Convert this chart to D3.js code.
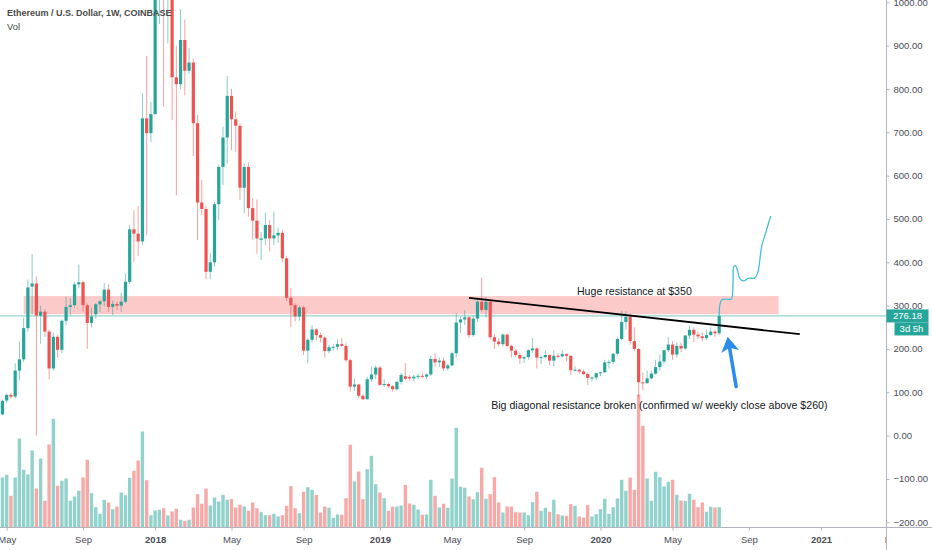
<!DOCTYPE html>
<html>
<head>
<meta charset="utf-8">
<script src="https://cdn.jsdelivr.net/npm/d3@7"></script>
<style>
  html, body { margin: 0; padding: 0; background: #fff; }
  svg { display: block; font-family: "Liberation Sans", Arial, sans-serif; }
</style>
</head>
<body>
<svg id="chart" width="932" height="550"></svg>
<script>
const width = 932;
const height = 550;
const plotRight = 886.5;
const axisY = 527.5;

// weekly candles from the week of 2017-04-24 to the week of 2020-07-20
const firstWeek = "2017-04-24";
const lastWeek = "2020-07-20";

const opens = [49,81,94,90,150,176,248,344,351,277,286,240,155,228,198,265,297,301,349,354,301,260,280,303,310,337,297,304,300,309,355,476,466,448,732,698,742,1150,1370,1050,1115,827,811,913,842,861,721,538,523,378,400,534,620,688,784,730,715,572,620,525,496,452,455,486,455,462,468,409,318,301,275,296,196,221,245,232,226,195,204,205,211,207,174,113,118,92,84,130,141,157,117,119,114,107,124,137,135,132,136,138,136,141,177,169,173,155,162,190,261,268,273,232,270,309,290,309,227,217,211,233,207,196,186,178,181,197,201,180,181,186,173,184,183,188,184,151,152,148,142,133,134,144,146,169,170,189,223,262,274,218,200,123,121,132,143,158,171,197,210,187,207,201,231,244,233,229,225,232,240,236];
const highs = [83,97,98,167,217,272,360,419,367,300,292,245,238,232,268,320,317,355,395,356,305,295,306,312,352,349,312,310,330,375,486,520,530,790,876,770,1190,1420,1420,1200,1180,900,984,960,894,870,740,590,530,421,540,625,713,830,800,748,720,628,630,548,545,470,514,497,517,480,475,415,340,305,300,300,225,255,248,238,230,210,210,222,225,213,178,132,120,95,136,159,162,160,130,122,117,127,145,167,140,140,143,145,143,185,190,180,180,166,194,283,275,290,275,278,318,365,320,313,235,225,236,236,210,200,192,185,200,225,204,185,197,187,198,190,197,190,186,160,154,152,146,136,145,147,175,175,190,228,288,287,280,250,202,145,150,150,175,187,198,227,218,215,215,232,253,250,240,238,245,250,245,279];
const lows = [47,76,85,86,128,170,240,280,0.1,212,228,130,150,180,190,255,278,295,340,285,200,250,270,285,298,285,278,290,285,305,350,400,415,440,463,678,740,950,759,905,728,555,800,785,835,645,451,509,361,361,390,498,578,628,659,655,544,513,505,451,420,405,440,425,440,445,400,310,251,263,265,186,167,215,220,215,180,190,196,198,205,170,102,103,86,82,83,125,130,115,112,110,101,104,118,128,126,125,130,133,131,138,160,158,150,150,160,180,237,255,225,228,262,285,272,222,200,205,206,205,180,182,165,168,175,190,155,165,178,162,160,178,180,172,140,148,143,140,117,124,128,137,145,155,165,185,220,245,210,195,90,105,120,130,140,150,166,193,175,180,193,198,223,216,223,217,220,230,228,232];
const closes = [80,94,90,150,176,248,342,351,277,286,240,155,228,198,265,297,301,349,354,301,260,275,303,310,337,297,304,300,309,355,476,466,448,732,698,742,1150,1370,1050,1115,827,811,913,842,861,721,538,523,378,400,534,620,688,784,730,715,572,620,525,496,455,455,486,455,462,468,409,318,301,275,296,196,221,245,232,226,195,204,205,211,207,174,113,118,92,84,130,141,157,117,119,114,107,124,140,131,132,136,138,136,141,177,169,173,155,162,190,261,268,273,232,270,309,290,309,227,217,211,233,207,196,186,178,181,197,201,180,181,186,173,184,183,188,184,151,152,148,142,133,134,144,146,169,170,189,223,262,274,218,200,123,121,132,143,158,171,197,210,187,207,201,231,244,233,229,225,232,240,236,276.18];
const volumes = [500,527,317,500,890,577,530,770,390,690,267,830,1087,417,467,490,267,310,367,500,677,343,203,137,277,250,183,210,350,323,497,567,670,960,473,123,170,177,193,120,160,187,77,67,77,200,333,237,390,220,300,260,327,277,283,200,227,210,167,250,193,153,123,123,137,110,123,217,413,193,143,357,403,377,327,150,210,197,97,130,127,293,827,460,560,283,583,717,433,350,293,167,210,210,220,427,240,227,180,127,130,477,317,200,237,197,490,997,407,397,310,283,353,597,287,333,503,250,150,210,210,153,150,150,123,253,357,167,197,157,277,133,120,117,233,217,110,100,223,110,133,183,287,137,203,290,477,367,500,377,1330,1017,490,267,557,503,410,457,477,327,270,267,337,277,203,250,157,207,200,203];

const timeTicks = ["2017-05-01","2017-09-04","2018-01-01","2018-05-07","2018-09-03","2019-01-07","2019-05-06","2019-09-02","2020-01-06","2020-05-04","2020-09-07","2021-01-04","2021-05-03"];
const timeLabels = ["May","Sep","2018","May","Sep","2019","May","Sep","2020","May","Sep","2021","May"];
const priceTicks = [1000,900,800,700,600,500,400,300,200,100,0,-100,-200];

// drawings on the chart
const zoneDates = ["2017-05-29","2020-10-26"];
const zonePrices = [280,322];
const trendDates = ["2019-06-03","2020-11-30"];
const trendPrices = [318,234];
const projDates = ["2020-07-20","2020-07-21","2020-07-24","2020-08-01","2020-08-09","2020-08-11","2020-08-12","2020-08-13","2020-08-16","2020-08-19","2020-08-23","2020-08-29","2020-09-06","2020-09-17","2020-09-22","2020-09-28","2020-10-06","2020-10-13"];
const projPrices = [278,301,313,315,315,328,367,390,392,382,363,357,363,364,378,436,474,507];
const arrowDates = ["2020-08-17","2020-08-03"];
const arrowPrices = [113,228];
const lastPrice = 276.18;
const timeLeft = "3d 5h";

const parse = d3.utcParse("%Y-%m-%d");
const weeks = d3.utcMonday.range(parse(firstWeek), d3.utcDay.offset(parse(lastWeek), 1));

const candles = weeks.map((d, i) => ({
  date: d, o: opens[i], h: highs[i], l: lows[i], c: closes[i], v: volumes[i]
}));

const up = "#26a69a";
const down = "#ef5350";
const textColor = "#4a4d57";

const x = d3.scaleUtc()
  .domain([parse("2017-05-01"), parse("2021-01-04")])
  .range([6.7, 821]);

const y = d3.scaleLinear()
  .domain([0, 1000])
  .range([435.6, 2.3]);

const yVol = d3.scaleLinear()
  .domain([0, d3.max(volumes)])
  .range([axisY, axisY - 133]);

const svg = d3.select("#chart");

const defs = svg.append("defs");
defs.append("clipPath")
  .attr("id", "plot-clip")
  .append("rect")
  .attr("x", 0).attr("y", 0)
  .attr("width", plotRight).attr("height", axisY);
defs.append("clipPath")
  .attr("id", "time-clip")
  .append("rect")
  .attr("x", 0).attr("y", -2)
  .attr("width", plotRight).attr("height", 30);

const plot = svg.append("g").attr("clip-path", "url(#plot-clip)");

// resistance zone
plot.append("rect")
  .attr("x", x(parse(zoneDates[0])))
  .attr("y", y(zonePrices[1]))
  .attr("width", x(parse(zoneDates[1])) - x(parse(zoneDates[0])))
  .attr("height", y(zonePrices[0]) - y(zonePrices[1]))
  .attr("fill", "#fdcaca");

// volume
plot.append("g")
  .selectAll("rect")
  .data(candles)
  .enter()
  .append("rect")
  .attr("x", d => x(d.date) - 1.7)
  .attr("width", 3.4)
  .attr("y", d => yVol(d.v))
  .attr("height", d => axisY - yVol(d.v))
  .attr("fill", d => d.c >= d.o ? up : down)
  .attr("fill-opacity", 0.5);

// last price line
plot.append("line")
  .attr("x1", 0).attr("x2", plotRight)
  .attr("y1", y(lastPrice)).attr("y2", y(lastPrice))
  .attr("stroke", up)
  .attr("stroke-opacity", 0.6)
  .attr("stroke-width", 1);

// candles
const candle = plot.append("g")
  .selectAll("g")
  .data(candles)
  .enter()
  .append("g");

candle.append("line")
  .attr("x1", d => x(d.date)).attr("x2", d => x(d.date))
  .attr("y1", d => y(d.h)).attr("y2", d => y(d.l))
  .attr("stroke", d => d.c >= d.o ? up : down)
  .attr("stroke-opacity", 0.55)
  .attr("stroke-width", 1);

candle.append("rect")
  .attr("x", d => x(d.date) - 1.6)
  .attr("width", 3.2)
  .attr("y", d => y(Math.max(d.o, d.c)))
  .attr("height", d => Math.max(1, Math.abs(y(d.o) - y(d.c))))
  .attr("fill", d => d.c >= d.o ? up : down);

// diagonal resistance
plot.append("line")
  .attr("x1", x(parse(trendDates[0]))).attr("y1", y(trendPrices[0]))
  .attr("x2", x(parse(trendDates[1]))).attr("y2", y(trendPrices[1]))
  .attr("stroke", "#000")
  .attr("stroke-width", 1.8);

// projected path
const proj = projDates.map((d, i) => [x(parse(d)), y(projPrices[i])]);
plot.append("path")
  .attr("d", d3.line().curve(d3.curveCatmullRom.alpha(0.5))(proj))
  .attr("fill", "none")
  .attr("stroke", "#45bfd9")
  .attr("stroke-width", 1.3);

// arrow
const tail = [x(parse(arrowDates[0])), y(arrowPrices[0])];
const tip = [x(parse(arrowDates[1])), y(arrowPrices[1])];
const ang = Math.atan2(tip[1] - tail[1], tip[0] - tail[0]);
const headLen = 15, headHalf = 9;
const base = [tip[0] - headLen * Math.cos(ang), tip[1] - headLen * Math.sin(ang)];
const nx = -Math.sin(ang), ny = Math.cos(ang);
const notch = [tip[0] - (headLen - 4) * Math.cos(ang), tip[1] - (headLen - 4) * Math.sin(ang)];

plot.append("line")
  .attr("x1", tail[0]).attr("y1", tail[1])
  .attr("x2", notch[0]).attr("y2", notch[1])
  .attr("stroke", "#2a8ded")
  .attr("stroke-width", 3.5)
  .attr("stroke-linecap", "round");

plot.append("path")
  .attr("d", d3.line()([
    tip,
    [base[0] + nx * headHalf, base[1] + ny * headHalf],
    notch,
    [base[0] - nx * headHalf, base[1] - ny * headHalf]
  ]) + "Z")
  .attr("fill", "#2a8ded");

// annotation texts
plot.append("text")
  .attr("x", x(parse("2020-03-02")))
  .attr("y", y(322) - 1)
  .attr("text-anchor", "middle")
  .attr("font-size", "10.6px")
  .attr("fill", "#131722")
  .text("Huge resistance at $350");

plot.append("text")
  .attr("x", x(parse("2020-04-13")) - 0.5)
  .attr("y", y(62))
  .attr("text-anchor", "middle")
  .attr("font-size", "10.6px")
  .attr("fill", "#131722")
  .text("Big diagonal resistance broken (confirmed w/ weekly close above $260)");

// title
svg.append("text")
  .attr("x", 7).attr("y", 16)
  .attr("font-size", "9px")
  .attr("fill", "#4a4a4a")
  .attr("font-weight", "bold")
  .text("Ethereum / U.S. Dollar, 1W, COINBASE");

svg.append("text")
  .attr("x", 7).attr("y", 29.5)
  .attr("font-size", "9.4px")
  .attr("fill", "#4a4a4a")
  .text("Vol");

// time axis
const xAxis = svg.append("g")
  .attr("transform", `translate(0,${axisY})`)
  .attr("clip-path", "url(#time-clip)")
  .call(d3.axisBottom(x)
    .tickValues(timeTicks.map(parse))
    .tickFormat((d, i) => timeLabels[i])
    .tickSize(3)
    .tickPadding(6));

xAxis.select(".domain").remove();
xAxis.selectAll(".tick line").attr("stroke", "#b2b5be");
xAxis.selectAll(".tick text")
  .attr("font-size", "9.5px")
  .attr("font-family", "Liberation Sans, Arial, sans-serif")
  .attr("fill", textColor)
  .attr("font-weight", (d, i) => /^\d{4}$/.test(timeLabels[i]) ? "bold" : "normal");

svg.append("line")
  .attr("x1", 0).attr("x2", width)
  .attr("y1", axisY).attr("y2", axisY)
  .attr("stroke", "#b2b5be");

// price axis
const yAxis = svg.append("g")
  .attr("transform", `translate(${plotRight},0)`)
  .call(d3.axisRight(y)
    .tickValues(priceTicks)
    .tickFormat(d3.format(".2f"))
    .tickSize(3)
    .tickPadding(4));

yAxis.select(".domain").remove();
yAxis.selectAll(".tick line").attr("stroke", "#b2b5be");
yAxis.selectAll(".tick text")
  .attr("font-size", "9.5px")
  .attr("font-family", "Liberation Sans, Arial, sans-serif")
  .attr("fill", textColor);

svg.append("line")
  .attr("x1", plotRight).attr("x2", plotRight)
  .attr("y1", 0).attr("y2", height)
  .attr("stroke", "#b2b5be");

// last price badge
const badgeY = y(lastPrice);
svg.append("rect")
  .attr("x", plotRight).attr("y", badgeY - 6.5)
  .attr("width", 42).attr("height", 13)
  .attr("fill", up);
svg.append("text")
  .attr("x", plotRight + 21).attr("y", badgeY + 3.4)
  .attr("text-anchor", "middle")
  .attr("font-size", "9.5px")
  .attr("fill", "#fff")
  .text(d3.format(".2f")(lastPrice));

svg.append("rect")
  .attr("x", plotRight + 8).attr("y", badgeY + 6.5)
  .attr("width", 34).attr("height", 13)
  .attr("fill", up);
svg.append("text")
  .attr("x", plotRight + 25).attr("y", badgeY + 16.4)
  .attr("text-anchor", "middle")
  .attr("font-size", "9.5px")
  .attr("fill", "#fff")
  .text(timeLeft);
</script>
</body>
</html>
